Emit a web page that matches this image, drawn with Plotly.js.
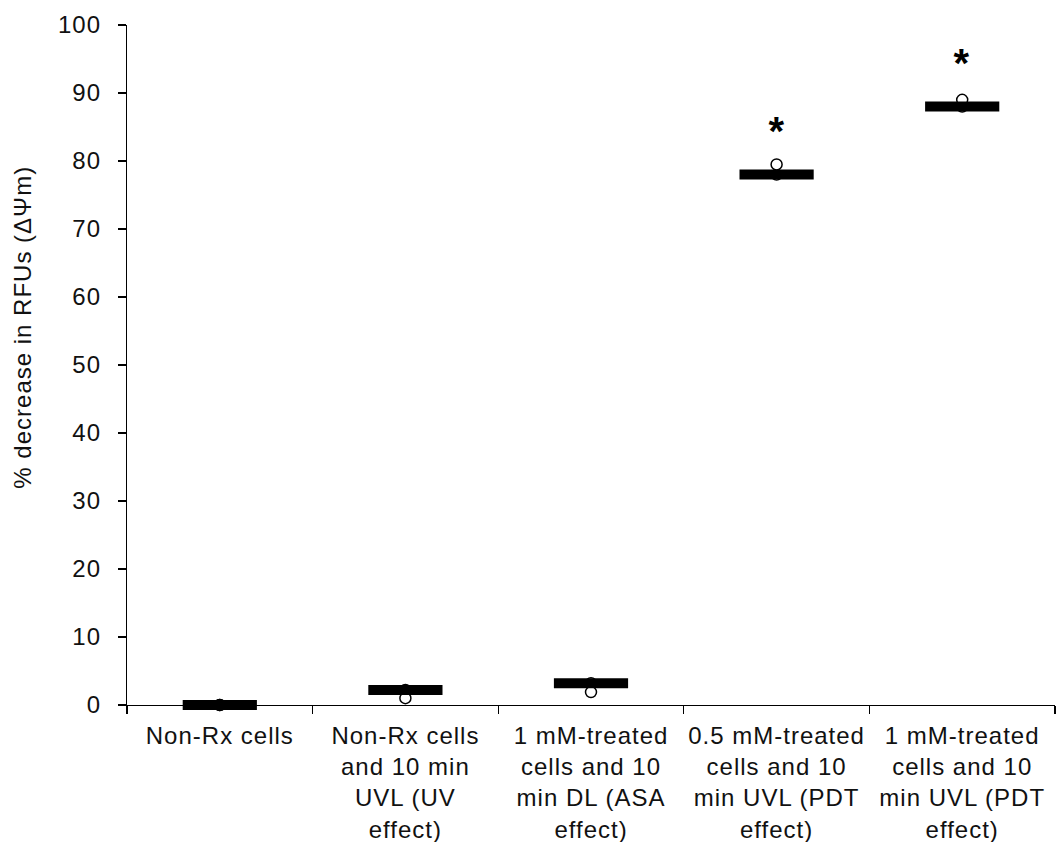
<!DOCTYPE html>
<html>
<head>
<meta charset="utf-8">
<script src="https://cdn.plot.ly/plotly-3.0.1.min.js"></script>
<style>
html,body{margin:0;padding:0;background:#fff;}
#chart{width:1056px;height:842px;}
#chart svg text{letter-spacing:1px;}
</style>
</head>
<body>
<div id="chart"></div>
<script>
const categories = [
  "Non-Rx cells",
  "Non-Rx cells<br>and 10 min<br>UVL (UV<br>effect)",
  "1 mM-treated<br>cells and 10<br>min DL (ASA<br>effect)",
  "0.5 mM-treated<br>cells and 10<br>min UVL (PDT<br>effect)",
  "1 mM-treated<br>cells and 10<br>min UVL (PDT<br>effect)"
];
const meanValues = [0, 2.2, 3.2, 78, 88];
const pointCategories = [0, 0, 1, 1, 2, 2, 3, 3, 4, 4];
const pointValues = [0, 0, 2.2, 1.0, 3.2, 1.9, 78, 79.5, 88, 89];
const sigCategories = [3, 4];
const sigValues = [85.3, 95.3];
const sigText = ["*", "*"];
const yTitle = "% decrease in RFUs (ΔΨm)";

const FONT = "Liberation Sans, Arial, sans-serif";

const points = {
  type: "scatter", mode: "markers",
  x: pointCategories.map(i => categories[i]),
  y: pointValues,
  cliponaxis: false,
  marker: {symbol: "circle", size: 11, color: "#ffffff", line: {color: "#000000", width: 1.5}},
  hoverinfo: "y", showlegend: false
};
const means = {
  type: "scatter", mode: "markers",
  x: categories, y: meanValues,
  cliponaxis: false,
  marker: {symbol: "line-ew", size: 53, color: "#000000", line: {color: "#000000", width: 10}},
  hoverinfo: "y", showlegend: false
};

const annotations = sigCategories.map((c, i) => ({
  x: categories[c], y: sigValues[i], xref: "x", yref: "y",
  text: "<b>" + sigText[i] + "</b>", showarrow: false, yanchor: "middle", yshift: -6,
  font: {family: FONT, size: 40, color: "#000000"}
}));
annotations.push({
  xref: "paper", yref: "paper", x: -0.112, y: 0.555,
  xanchor: "center", yanchor: "middle", textangle: -90, showarrow: false,
  text: yTitle, font: {family: FONT, size: 24, color: "#111111"}
});

const layout = {
  width: 1056, height: 842,
  margin: {l: 127, r: 1, t: 25, b: 137},
  paper_bgcolor: "#ffffff", plot_bgcolor: "#ffffff",
  font: {family: FONT, color: "#111111"},
  xaxis: {
    type: "category", categoryorder: "array", categoryarray: categories,
    range: [-0.5, 4.5],
    showgrid: false, zeroline: false,
    showline: true, linecolor: "#000000", linewidth: 1.2,
    ticks: "outside", tickson: "boundaries", ticklen: 8, tickcolor: "#000000", tickwidth: 1.2,
    ticklabelstandoff: 9,
    tickfont: {size: 24, color: "#111111"}, tickangle: 0
  },
  yaxis: {
    range: [0, 100], dtick: 10, tick0: 0,
    showgrid: false, zeroline: false,
    showline: true, linecolor: "#000000", linewidth: 1.2,
    ticks: "outside", ticklen: 8, tickcolor: "#000000", tickwidth: 1.2,
    ticklabelstandoff: 12,
    tickfont: {size: 24, color: "#111111"}
  },
  annotations: annotations
};

Plotly.newPlot("chart", [points, means], layout, {displayModeBar: false, staticPlot: true});
</script>
</body>
</html>
